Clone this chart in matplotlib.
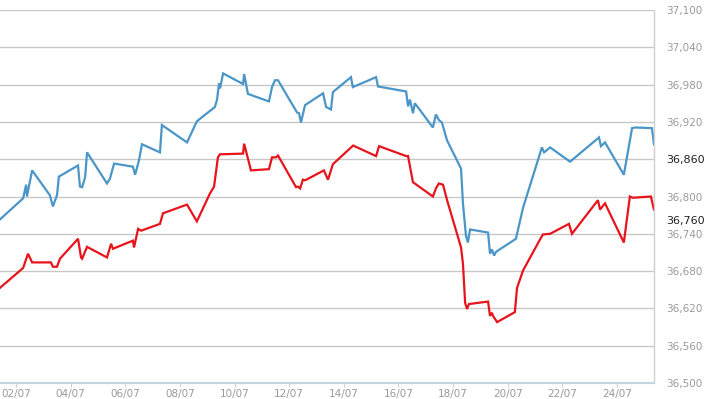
import numpy as np
import matplotlib
matplotlib.use('Agg')
from matplotlib import pyplot as plt

# dias de julho (fração do dia) e valores
azul_dia = [1.41, 2.26, 2.37, 2.40, 2.59, 3.24, 3.35, 3.50, 3.57, 4.27, 4.34, 4.42, 4.53, 4.60,
            5.33, 5.44, 5.59, 6.28, 6.36, 6.50, 6.61, 7.27, 7.34, 8.26, 8.62, 9.28, 9.36, 9.43,
            9.47, 9.58, 10.31, 10.35, 10.49, 11.26, 11.37, 11.48, 11.59, 12.29, 12.36, 12.43,
            12.58, 13.24, 13.35, 13.53, 13.60, 14.26, 14.33, 15.18, 15.25, 16.28, 16.35, 16.42,
            16.53, 16.60, 17.26, 17.37, 17.48, 17.59, 17.78, 18.29, 18.36, 18.47, 18.54, 18.62,
            19.28, 19.35, 19.42, 19.50, 19.57, 20.30, 20.56, 21.25, 21.33, 21.55, 22.28, 23.34,
            23.41, 23.56, 24.25, 24.55, 24.66, 25.28, 25.35]
azul_val = [36763, 36797, 36819, 36800, 36842, 36802, 36784, 36802, 36832, 36850, 36816, 36815,
            36831, 36871, 36821, 36829, 36853, 36848, 36835, 36858, 36884, 36871, 36915, 36887,
            36921, 36944, 36956, 36982, 36974, 36998, 36981, 36997, 36965, 36953, 36976, 36987,
            36987, 36935, 36934, 36919, 36947, 36966, 36944, 36940, 36968, 36992, 36976, 36992,
            36977, 36969, 36945, 36956, 36934, 36950, 36911, 36932, 36923, 36919, 36890, 36845,
            36789, 36737, 36726, 36747, 36742, 36708, 36715, 36705, 36711, 36732, 36782, 36879,
            36871, 36879, 36856, 36895, 36881, 36887, 36835, 36910, 36911, 36910, 36884]

verm_dia = [1.41, 2.26, 2.44, 2.59, 3.28, 3.35, 3.50, 3.61, 4.27, 4.38, 4.42, 4.60, 5.33, 5.48,
            5.55, 6.28, 6.32, 6.47, 6.58, 7.27, 7.38, 8.26, 8.62, 9.10, 9.25, 9.39, 9.47, 9.58,
            10.31, 10.35, 10.60, 11.26, 11.37, 11.52, 11.59, 12.25, 12.32, 12.40, 12.50, 12.58,
            13.27, 13.42, 13.60, 14.34, 15.18, 15.29, 16.28, 16.35, 16.53, 17.26, 17.37, 17.48,
            17.63, 17.78, 18.29, 18.36, 18.44, 18.51, 18.58, 19.28, 19.35, 19.42, 19.46, 19.61,
            20.26, 20.34, 20.56, 21.22, 21.29, 21.55, 22.24, 22.35, 23.30, 23.38, 23.56, 24.25,
            24.47, 24.58, 25.24, 25.35]
verm_val = [36653, 36685, 36708, 36694, 36694, 36687, 36687, 36700, 36732, 36702, 36700, 36719,
            36702, 36724, 36716, 36729, 36718, 36748, 36745, 36756, 36773, 36787, 36760, 36805,
            36816, 36863, 36868, 36868, 36869, 36885, 36842, 36844, 36863, 36863, 36866, 36815,
            36816, 36813, 36827, 36826, 36842, 36827, 36852, 36882, 36865, 36881, 36865, 36865,
            36823, 36800, 36813, 36821, 36819, 36794, 36718, 36692, 36629, 36619, 36627, 36631,
            36608, 36613, 36608, 36598, 36614, 36653, 36681, 36734, 36739, 36740, 36756, 36740,
            36794, 36779, 36789, 36726, 36800, 36798, 36800, 36779]

x_ticks = [2, 4, 6, 8, 10, 12, 14, 16, 18, 20, 22, 24]
x_labels = ['%02d/07' % d for d in x_ticks]
y_ticks = [36500, 36560, 36620, 36680, 36740, 36800, 36860, 36920, 36980, 37040, 37100]
y_labels = ['{:,}'.format(v) for v in y_ticks]
ultimo_azul = 36860
ultimo_verm = 36760

fig = plt.figure(figsize=(7.1, 3.99), dpi=100)
ax = fig.add_axes([0, 0.0401, 0.921, 0.9348])

ax.plot(azul_dia, azul_val, color='#4a96c8', lw=1.6, solid_joinstyle='miter')
ax.plot(verm_dia, verm_val, color='#e8141c', lw=1.6, solid_joinstyle='miter')

ax.set_xlim(1.414, 25.35)
ax.set_ylim(36500, 37100)

ax.set_xticks(x_ticks, labels=x_labels)
ax.set_yticks(y_ticks, labels=y_labels)
ax.yaxis.tick_right()
ax.tick_params(axis='y', length=0, pad=9, labelsize=7.5, labelcolor='#9a9a9a')
ax.tick_params(axis='x', length=3, width=0.8, color='#c5d3e2', pad=1.5,
               labelsize=7.5, labelcolor='#9a9a9a')

for lbl in ax.get_yticklabels():
    if lbl.get_text() == '{:,}'.format(ultimo_azul):
        lbl.set_color('#222222')
        lbl.set_fontsize(8)

ax.text(1.0, ultimo_verm, '{:,}'.format(ultimo_verm), transform=ax.get_yaxis_transform(),
        ha='left', va='center', fontsize=8, color='#222222')
# ajuste da posição do texto para ficar alinhado com os ticks
ax.texts[-1].set_x(1.0 + 12 / 654)

ax.grid(axis='y', color='#c8c8c8', lw=1)
ax.set_axisbelow(True)
for s in ['top', 'left']:
    ax.spines[s].set_visible(False)
ax.spines['right'].set_color('#d0d0d0')
ax.spines['right'].set_linewidth(1)
ax.spines['bottom'].set_color('#c5d3e2')
ax.spines['bottom'].set_linewidth(1.5)

fig.savefig('out.png', dpi=100)
